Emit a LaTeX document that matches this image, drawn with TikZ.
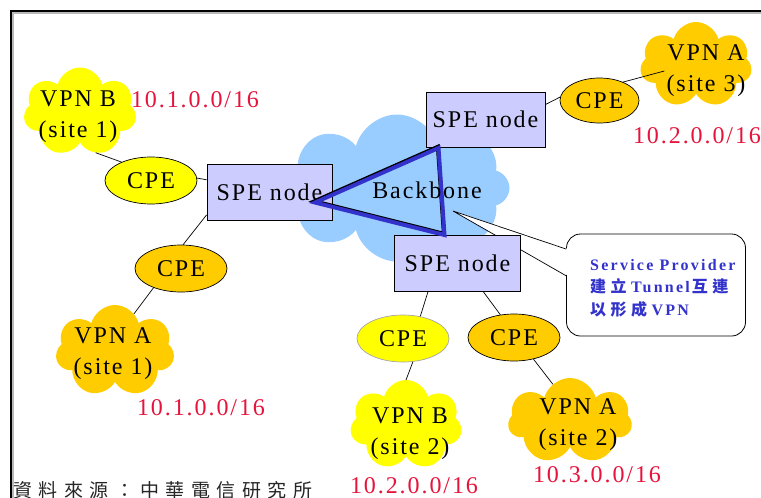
\documentclass[tikz,border=0pt]{standalone}
\usepackage{fontspec}
\setmainfont{Liberation Serif}
\newfontfamily\spfont[LetterSpace=8]{Liberation Serif}
\newfontfamily\calloutfont[LetterSpace=14]{Liberation Serif}
\newfontfamily\cjkbold[LetterSpace=28]{Noto Sans CJK TC}
\newfontfamily\cjkfoot[LetterSpace=34]{Noto Sans CJK TC}
\usetikzlibrary{shapes.symbols,shapes.geometric,calc}

\definecolor{vpnyellow}{RGB}{255,255,0}
\definecolor{vpnorange}{RGB}{255,204,0}
\definecolor{spefill}{RGB}{204,204,255}
\definecolor{bbblue}{RGB}{153,204,255}
\definecolor{netred}{RGB}{230,20,60}
\definecolor{tunnelblue}{RGB}{51,51,204}

\newcommand{\zh}[1]{{\cjkbold\bfseries\fontsize{16}{22.5}\selectfont #1}}

\begin{document}
\begin{tikzpicture}[x=1pt,y=-1pt,
  cloudy/.style={cloud, cloud puffs=7, cloud ignores aspect, draw=none, inner sep=0pt, outer sep=0pt},
  cpebox/.style={ellipse, draw=black, line width=0.7pt, inner sep=0pt,
    minimum width=92pt, minimum height=47pt, font=\spfont\fontsize{24}{28}\selectfont},
  spebox/.style={rectangle, draw=black, fill=spefill, line width=0.8pt, inner sep=0pt,
    font=\spfont\fontsize{24}{28}\selectfont},
  sitetext/.style={font=\spfont\fontsize{24}{31}\selectfont, align=center, inner sep=2pt},
  netlabel/.style={font=\spfont\fontsize{24}{28}\selectfont, text=netred, inner sep=0pt},
  link/.style={draw=black, line width=0.7pt}]

\useasboundingbox (0,0) rectangle (761,498);

% page frame
\draw[black, line width=2pt] (11,498) -- (11,11) -- (761,11);
\draw[gray!55, line width=2pt] (13,498) -- (13,13) -- (761,13);

% customer sites and provider backbone
\node[cloudy, fill=bbblue, cloud puffs=8, minimum width=225pt, minimum height=147pt] (bb) at (397,188) {};
\node[cloudy, fill=vpnyellow, minimum width=113pt, minimum height=89pt] (cB1) at (80,112) {};
\node[cloudy, fill=vpnorange, minimum width=119pt, minimum height=92pt] (cA1) at (115,351) {};
\node[cloudy, fill=vpnorange, minimum width=112pt, minimum height=86pt] (cA3) at (696,65) {};
\node[cloudy, fill=vpnyellow, minimum width=112pt, minimum height=90pt] (cB2) at (406,425) {};
\node[cloudy, fill=vpnorange, minimum width=124pt, minimum height=86pt] (cA2) at (570,421) {};

% callout box with its pointer
\node[draw=black, fill=white, line width=0.8pt, rounded corners=14pt,
      minimum width=179pt, minimum height=102pt] (note) at (656,285) {};
\coordinate (tip) at (453,211);
\coordinate (pa) at ($(note.north west)!0.15!(note.south west)$);
\coordinate (pb) at ($(note.north west)!0.41!(note.south west)$);
\fill[white] (tip) -- ([xshift=2pt]pa) -- ([xshift=2pt]pb) -- cycle;
\draw[black, line width=0.7pt] (pa) -- (tip) -- (pb);

% provider edge nodes
\node[spebox, minimum width=125pt, minimum height=56pt] (spe1) at (269.5,192) {SPE node};
\node[spebox, minimum width=119pt, minimum height=55pt] (spe2) at (485.5,119.5) {SPE node};
\node[spebox, minimum width=126pt, minimum height=56pt] (spe3) at (457.5,263) {SPE node};

% tunnel mesh between the edge nodes
\coordinate (v1) at (315,202.5);
\coordinate (v2) at (438.5,148);
\coordinate (v3) at (444.5,235);
\draw[black, line width=4pt, line join=miter]
  ([shift={(-0.6pt,1.2pt)}]v1) -- ([shift={(-0.6pt,1.2pt)}]v2) -- ([shift={(-0.6pt,1.2pt)}]v3) -- cycle;
\draw[tunnelblue, line width=4pt, line join=miter] (v1) -- (v2) -- (v3) -- cycle;

\node[font=\spfont\fontsize{24}{28}\selectfont, inner sep=0pt] (bbt) at (427,190) {Backbone};

% customer edge routers
\node[cpebox, fill=vpnyellow] (cpeB1) at (151,180.5) {CPE};
\node[cpebox, fill=vpnorange] (cpeA1) at (181,268.5) {CPE};
\node[cpebox, fill=vpnorange, minimum width=79pt, minimum height=45pt] (cpeA3) at (599.5,100.5) {CPE};
\node[cpebox, fill=vpnyellow, draw=gray!70] (cpeB2) at (403,338.5) {CPE};
\node[cpebox, fill=vpnorange] (cpeA2) at (514,337.5) {CPE};

% site names
\node[sitetext] (tB1) at (78,117) {VPN B\\(site 1)};
\node[sitetext] (tA1) at (113,354) {VPN A\\(site 1)};
\node[sitetext] (tA3) at (706,71) {VPN A\\(site 3)};
\node[sitetext] (tB2) at (410,434) {VPN B\\(site 2)};
\node[sitetext] (tA2) at (578,425) {VPN A\\(site 2)};

% address blocks
\node[netlabel] (n1) at (195,100) {10.1.0.0/16};
\node[netlabel] (n2) at (697,136) {10.2.0.0/16};
\node[netlabel] (n3) at (201,408) {10.1.0.0/16};
\node[netlabel] (n4) at (414,485.5) {10.2.0.0/16};
\node[netlabel] (n5) at (597,475) {10.3.0.0/16};

% access links
\draw[link] (cB1.-69) -- (cpeB1.148);
\draw[link] (cpeB1.3) -- (spe1.169);
\draw[link] (spe1.200) -- (cpeA1.85);
\draw[link] (cpeA1.215) -- (cA1.63);
\draw[link] (spe2.14) -- (cpeA3.175);
\draw[link] (cpeA3.38) -- (tA3.west);
\draw[link] (spe3.224) -- (cpeB2.52);
\draw[link] (cpeB2.-67) -- (cB2.north);
\draw[link] (spe3.-48) -- (cpeA2.121);
\draw[link] (cpeA2.-48) -- (cA2.115);

% callout text
\node[anchor=west, align=left, text=tunnelblue, inner sep=0pt,
      font=\calloutfont\bfseries\fontsize{16}{22.5}\selectfont] (notetext) at (590,288)
  {Service Provider\\\zh{建立}\kern4.5pt Tunnel\kern2pt\zh{互連}\\\zh{以形成}\kern4.5pt VPN};

% source line
\node[anchor=west, inner sep=0pt, text=black!85, font=\cjkfoot\fontsize{19}{22}\selectfont] (src) at (13,490) {資料來源：中華電信研究所};
\end{tikzpicture}
\end{document}
